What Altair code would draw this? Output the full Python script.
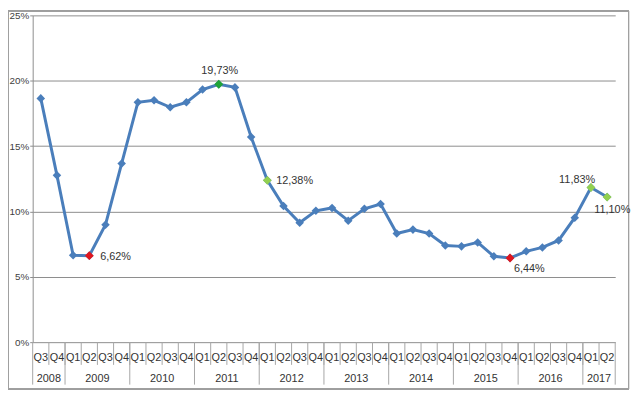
import altair as alt
import pandas as pd

quarters = ["Q3", "Q4"] + ["Q1", "Q2", "Q3", "Q4"] * 8 + ["Q1", "Q2"]
years = ["2008", "2009", "2010", "2011", "2012", "2013", "2014", "2015", "2016", "2017"]
quarters_per_year = [2, 4, 4, 4, 4, 4, 4, 4, 4, 2]
values = [18.65, 12.76, 6.65, 6.62, 8.99, 13.67, 18.35, 18.50, 17.97, 18.35,
          19.33, 19.73, 19.49, 15.70, 12.38, 10.42, 9.14, 10.05, 10.27, 9.29,
          10.20, 10.57, 8.31, 8.61, 8.31, 7.40, 7.33, 7.63, 6.57, 6.44,
          6.95, 7.25, 7.78, 9.52, 11.83, 11.10]
y_ticks = [0, 5, 10, 15, 20, 25]

highlight_idx = [3, 11, 14, 29, 34, 35]
highlight_colors = ["#E0161E", "#1FA337", "#92D050", "#E0161E", "#92D050", "#92D050"]
label_texts = ["6,62%", "19,73%", "12,38%", "6,44%", "11,83%", "11,10%"]

FONT = "Liberation Sans"
LINE = "#4A7EBB"
GRID = "#8C8C8C"
SEP = "#A6A6A6"
TXT = "#333333"

df = pd.DataFrame({
    "x": [i + 0.5 for i in range(len(values))],
    "v": values,
    "q": quarters,
})

hl = pd.DataFrame({
    "x": [i + 0.5 for i in highlight_idx],
    "v": [values[i] for i in highlight_idx],
    "c": highlight_colors,
    "t": label_texts,
})

bounds = [0]
for n in quarters_per_year:
    bounds.append(bounds[-1] + n)
year_df = pd.DataFrame({
    "x": [(bounds[i] + bounds[i + 1]) / 2 for i in range(len(years))],
    "year": years,
})
year_sep = pd.DataFrame({"x": bounds})
q_sep = pd.DataFrame({"x": list(range(1, len(values)))})

xs = alt.Scale(domain=[0, len(values)], nice=False, zero=False)
ys = alt.Scale(domain=[0, 25], nice=False)

X = alt.X("x:Q", scale=xs, axis=None)
Y = alt.Y("v:Q", scale=ys, axis=alt.Axis(
    values=y_ticks, title=None, labelExpr="datum.value + '%'",
    grid=True, gridColor=GRID, domainColor=GRID, tickColor=GRID,
    tickSize=3, labelPadding=1, labelFontSize=10, labelColor="#404040",
    labelFont=FONT))

base = alt.Chart(df)
line = base.mark_line(color=LINE, strokeWidth=3).encode(x=X, y=Y)
pts = base.mark_point(shape="diamond", filled=True, size=75, opacity=1,
                      color=LINE).encode(x=X, y="v:Q")

hpts = alt.Chart(hl).mark_point(shape="diamond", filled=True, size=80,
                                opacity=1).encode(
    x=X, y="v:Q", color=alt.Color("c:N", scale=None))

label_specs = [
    (0, "left", 11, 1),
    (1, "center", 1, -13),
    (2, "left", 9, 1),
    (3, "left", 4, 11),
    (4, "center", -14, -8),
    (5, "left", -13, 13),
]
labels = []
for i, align, dx, dy in label_specs:
    labels.append(
        alt.Chart(hl.iloc[[i]]).mark_text(
            align=align, baseline="middle", dx=dx, dy=dy,
            fontSize=11, font=FONT, color=TXT
        ).encode(x=X, y="v:Q", text="t:N")
    )

qsep = alt.Chart(q_sep).mark_rule(color=SEP, strokeWidth=1).encode(
    x=X, y=alt.value(331), y2=alt.value(354))
ysep = alt.Chart(year_sep).mark_rule(color=SEP, strokeWidth=1).encode(
    x=X, y=alt.value(331), y2=alt.value(374))
qlab = base.mark_text(fontSize=11, font=FONT, color=TXT, baseline="middle").encode(
    x=X, y=alt.value(347), text="q:N")
ylab = alt.Chart(year_df).mark_text(fontSize=11, font=FONT, color=TXT,
                                    baseline="middle").encode(
    x=X, y=alt.value(368), text="year:N")

frame = alt.Chart(year_df).mark_rect(fill=None, stroke="#A0A0A0", strokeWidth=1).encode(
    x=alt.value(-24.5), x2=alt.value(603.5), y=alt.value(-4.5), y2=alt.value(378.5))

chart = alt.layer(
    frame, qsep, ysep, line, pts, hpts, *labels, qlab, ylab
).properties(
    width=590, height=331,
    autosize=alt.AutoSizeParams(type="none"),
    padding={"left": 25, "top": 5, "right": 17, "bottom": 48},
    background="white",
).configure_view(stroke=None)

chart.save("out.html", embed_options={"renderer": "svg", "actions": False})
